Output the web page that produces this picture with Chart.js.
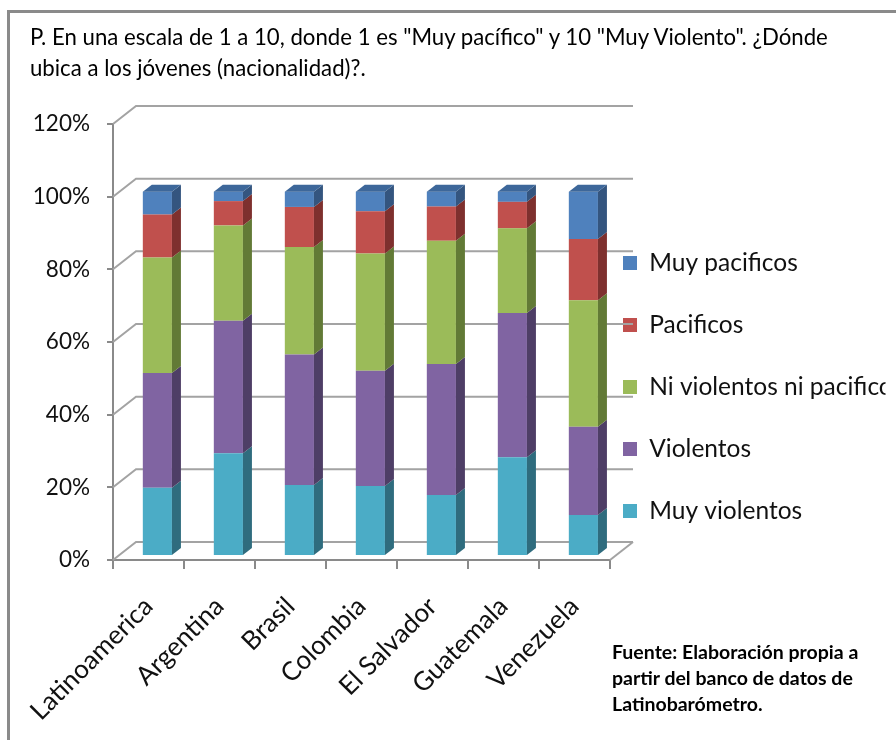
<!DOCTYPE html>
<html>
<head>
<meta charset="utf-8">
<script src="https://cdn.jsdelivr.net/npm/chart.js@4.4.1/dist/chart.umd.min.js"></script>
<style>
  html, body { margin: 0; padding: 0; width: 896px; height: 740px; overflow: hidden; background: #fff; }
  #frame { position: absolute; left: 7px; top: 10px; width: 1000px; height: 1000px; border: 3px solid #8a8a8a; box-sizing: border-box; }
  #title { position: absolute; left: 30px; top: 21px; font-family: Lato, sans-serif; font-size: 22.2px; line-height: 31px; color: #000; white-space: nowrap; }
  #note { position: absolute; left: 612px; top: 639px; font-family: Lato, sans-serif; font-weight: bold; font-size: 19.5px; line-height: 26px; color: #000; white-space: nowrap; }
  #wrap { position: absolute; left: 0; top: 0; width: 896px; height: 740px; }
</style>
</head>
<body>
<div id="frame"></div>
<div id="wrap"><canvas id="c"></canvas></div>
<div id="title">P. En una escala de 1 a 10, donde 1 es "Muy pacífico" y 10 "Muy Violento". ¿Dónde<br>ubica a los jóvenes (nacionalidad)?.</div>
<div id="note">Fuente: Elaboración propia a<br>partir del banco de datos de<br>Latinobarómetro.</div>
<script>
// ---- data ----
const categories = ["Latinoamerica", "Argentina", "Brasil", "Colombia", "El Salvador", "Guatemala", "Venezuela"];
const muyViolentos   = [18.5, 28.0, 19.3, 19.0, 16.5, 26.9, 11.0];
const violentos      = [31.6, 36.5, 35.9, 31.7, 36.1, 39.7, 24.3];
const niViolentosNiPacificos = [31.8, 26.2, 29.6, 32.3, 33.9, 23.3, 34.8];
const pacificos      = [11.8, 6.7, 11.0, 11.6, 9.4, 7.3, 16.9];
const muyPacificos   = [6.3, 2.6, 4.2, 5.4, 4.1, 2.8, 13.0];
const yTicks = [0, 20, 40, 60, 80, 100, 120];

const seriesNames = ["Muy violentos", "Violentos", "Ni violentos ni pacificos", "Pacificos", "Muy pacificos"];
const seriesValues = [muyViolentos, violentos, niViolentosNiPacificos, pacificos, muyPacificos];

// ---- styles ----
const frontColors = ["#4BACC6", "#8064A2", "#9BBB59", "#C0504D", "#4F81BD"];
const sideColors  = ["#2F6C7E", "#4E3E66", "#627A36", "#7E302E", "#34557F"];
const topColor = "#3D679A";
const gridColor = "#a3a3a3";
const axisColor = "#8a8a8a";
const DX = 23, DY = 18;   // wall depth
const BD = 9, BH = 7;     // bar depth
const LEGEND_FONT = 24.5, LEGEND_PAD = 37.5;

Chart.defaults.font.family = "Lato, sans-serif";
Chart.defaults.color = "#111";

const datasets = seriesNames.map((name, k) => ({
  label: name,
  data: seriesValues[k].map((v, i) => ({ x: i, y: v })),
  backgroundColor: frontColors[k],
  borderWidth: 0,
  xAxisID: "x2",
  yAxisID: "y2",
  barPercentage: 0.41,
  categoryPercentage: 1.0
}));

const wallPlugin = {
  id: "walls",
  beforeDatasetsDraw(chart) {
    const ctx = chart.ctx, y = chart.scales.y, a = chart.chartArea;
    ctx.save();
    ctx.strokeStyle = gridColor;
    ctx.lineWidth = 2;
    y.ticks.forEach(t => {
      const py = y.getPixelForValue(t.value);
      ctx.beginPath();
      ctx.moveTo(a.left, py);
      ctx.lineTo(a.left + DX, py - DY);
      ctx.lineTo(a.right + DX, py - DY);
      ctx.stroke();
    });
    const p0 = y.getPixelForValue(0);
    ctx.beginPath();
    ctx.moveTo(a.right, p0);
    ctx.lineTo(a.right + DX, p0 - DY);
    ctx.stroke();
    ctx.restore();
  }
};

const barDepthPlugin = {
  id: "barDepth",
  afterDatasetsDraw(chart) {
    const ctx = chart.ctx;
    const n = chart.data.datasets.length;
    ctx.save();
    chart.data.datasets.forEach((ds, k) => {
      const meta = chart.getDatasetMeta(k);
      meta.data.forEach(bar => {
        const p = bar.getProps(["x", "y", "base", "width"], true);
        const r = p.x + p.width / 2, l = p.x - p.width / 2;
        ctx.fillStyle = sideColors[k];
        ctx.beginPath();
        ctx.moveTo(r, p.y);
        ctx.lineTo(r + BD, p.y - BH);
        ctx.lineTo(r + BD, p.base - BH);
        ctx.lineTo(r, p.base);
        ctx.closePath();
        ctx.fill();
        if (k === n - 1) {
          ctx.fillStyle = topColor;
          ctx.beginPath();
          ctx.moveTo(l, p.y);
          ctx.lineTo(l + BD, p.y - BH);
          ctx.lineTo(r + BD, p.y - BH);
          ctx.lineTo(r, p.y);
          ctx.closePath();
          ctx.fill();
        }
      });
    });
    ctx.restore();
  }
};

// place the legend block beside the plot like the original
const legendPlace = {
  id: "legendPlace",
  afterLayout(chart) {
    const lg = chart.legend;
    if (!lg) return;
    const left = 623 - LEGEND_PAD;
    const top = 263 - LEGEND_FONT / 2 - LEGEND_PAD;
    lg.left = left; lg.right = left + 300;
    lg.top = top; lg.bottom = top + 420;
  }
};

new Chart(document.getElementById("c"), {
  type: "bar",
  data: { labels: categories, datasets },
  options: {
    responsive: true,
    maintainAspectRatio: false,
    animation: false,
    events: [],
    layout: { padding: { top: 124, left: 0, right: 0, bottom: 0 } },
    plugins: {
      title: { display: false },
      tooltip: { enabled: false },
      legend: {
        position: "right",
        align: "start",
        reverse: true,
        maxWidth: 286,
        labels: { boxWidth: 14, boxHeight: 14, padding: LEGEND_PAD, font: { size: LEGEND_FONT }, color: "#111" }
      }
    },
    scales: {
      x: {
        type: "category",
        offset: true,
        afterFit(s) { s.height = 180; },
        grid: { offset: true, drawOnChartArea: false, drawTicks: true, tickLength: 9, color: axisColor, lineWidth: 2 },
        border: { color: axisColor, width: 2 },
        ticks: { minRotation: 45, maxRotation: 45, padding: 22, font: { size: 26 }, color: "#111" }
      },
      y: {
        type: "linear",
        min: 0, max: 120,
        afterFit(s) { s.width = 113; },
        afterBuildTicks(s) { s.ticks = yTicks.map(v => ({ value: v })); },
        grid: { drawOnChartArea: false, drawTicks: true, tickLength: 6, color: axisColor, lineWidth: 2 },
        border: { color: axisColor, width: 2 },
        ticks: { padding: 17, font: { size: 22.5 }, color: "#111", callback: v => v + "%" }
      },
      x2: { type: "linear", display: false, stacked: true, min: -0.625, max: 6.375, offset: false },
      y2: { type: "linear", display: false, stacked: true, min: -1.376, max: 118.624 }
    }
  },
  plugins: [wallPlugin, barDepthPlugin, legendPlace]
});
</script>
</body>
</html>
